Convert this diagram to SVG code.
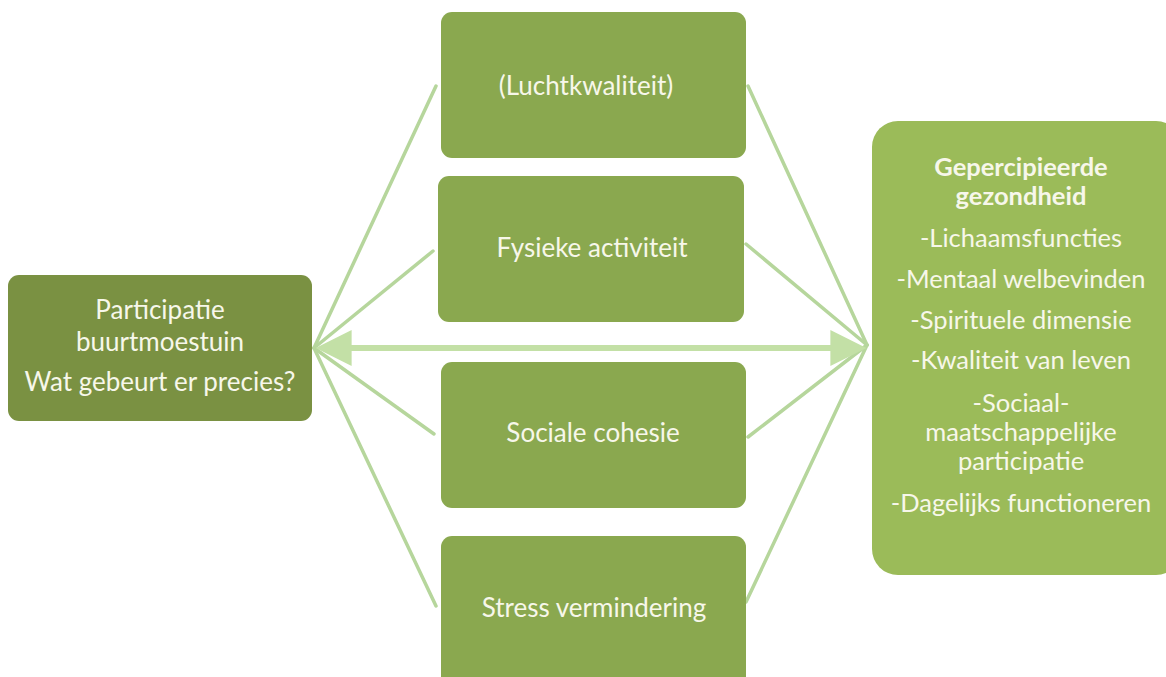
<svg xmlns="http://www.w3.org/2000/svg" width="1166" height="677" viewBox="0 0 1166 677">
  <defs>
    <style>
      .lbl { font-family: Lato, "Open Sans", "Liberation Sans", sans-serif; font-size: 26px; fill: #f7f7ea; text-anchor: middle; }
      .side { font-size: 25.5px; }
      .bold { font-weight: bold; }
      .mid { fill: #8aa84f; }
      .link { stroke: #b6d69c; stroke-width: 3.5; fill: none; stroke-linecap: round; }
    </style>
    <marker id="head" viewBox="0 0 10 10" refX="6" refY="5" markerWidth="6.5" markerHeight="6" markerUnits="strokeWidth" orient="auto-start-reverse">
      <path d="M0,0 L10,5 L0,10 Z" fill="#c3e0a6"/>
    </marker>
  </defs>
  <rect width="1166" height="677" fill="#ffffff"/>

  <g id="connectors">
    <line class="link" x1="314" y1="348" x2="436" y2="86"/>
    <line class="link" x1="314" y1="348" x2="433" y2="251"/>
    <line class="link" x1="314" y1="348" x2="434" y2="434"/>
    <line class="link" x1="314" y1="348" x2="436" y2="606"/>
    <line class="link" x1="748" y1="86" x2="867" y2="345" stroke="#bccfa4"/>
    <line class="link" x1="746" y1="244" x2="867" y2="345"/>
    <line class="link" x1="748" y1="437" x2="867" y2="345"/>
    <line class="link" x1="746" y1="602" x2="867" y2="345"/>
    <line x1="330" y1="348" x2="852" y2="348" stroke="#c3e0a6" stroke-width="6" marker-start="url(#head)" marker-end="url(#head)"/>
  </g>

  <g id="participatie">
    <rect x="8" y="275" width="304" height="146" rx="11" fill="#7a9142"/>
    <text class="lbl" x="160" y="319">Participatie</text>
    <text class="lbl" x="160" y="351">buurtmoestuin</text>
    <text class="lbl" x="160" y="391">Wat gebeurt er precies?</text>
  </g>

  <g id="luchtkwaliteit">
    <rect class="mid" x="441" y="12" width="305" height="146" rx="11"/>
    <text class="lbl" x="586" y="95">(Luchtkwaliteit)</text>
  </g>

  <g id="fysieke-activiteit">
    <rect class="mid" x="438" y="176" width="306" height="146" rx="11"/>
    <text class="lbl" x="592" y="257">Fysieke activiteit</text>
  </g>

  <g id="sociale-cohesie">
    <rect class="mid" x="441" y="362" width="305" height="146" rx="11"/>
    <text class="lbl" x="593" y="442">Sociale cohesie</text>
  </g>

  <g id="stress-vermindering">
    <rect class="mid" x="441" y="536" width="305" height="160" rx="11"/>
    <text class="lbl" x="594" y="617">Stress vermindering</text>
  </g>

  <g id="gezondheid">
    <rect x="872" y="121" width="310" height="454" rx="26" fill="#9bbb59"/>
    <text class="lbl side bold" x="1021" y="176">Gepercipieerde</text>
    <text class="lbl side bold" x="1021" y="205">gezondheid</text>
    <text class="lbl side" x="1021" y="247">-Lichaamsfuncties</text>
    <text class="lbl side" x="1021" y="288">-Mentaal welbevinden</text>
    <text class="lbl side" x="1021" y="329">-Spirituele dimensie</text>
    <text class="lbl side" x="1021" y="369">-Kwaliteit van leven</text>
    <text class="lbl side" x="1021" y="412">-Sociaal-</text>
    <text class="lbl side" x="1021" y="441">maatschappelijke</text>
    <text class="lbl side" x="1021" y="470">participatie</text>
    <text class="lbl side" x="1021" y="512">-Dagelijks functioneren</text>
  </g>
</svg>
